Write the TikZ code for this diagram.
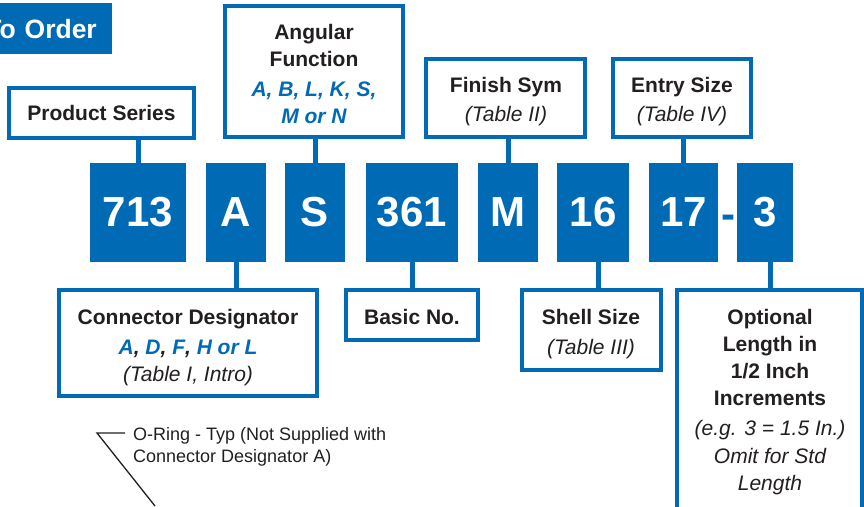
\documentclass[tikz,border=0pt]{standalone}
\usepackage{fontspec}
\setmainfont{Liberation Sans}
\definecolor{brandblue}{RGB}{0,106,180}
\definecolor{ink}{RGB}{35,31,32}
\begin{document}
\begin{tikzpicture}[x=1pt,y=-1pt,
 code/.style={fill=brandblue, text=white, font=\fontsize{42}{42}\selectfont\bfseries, minimum height=99pt, inner sep=0pt},
 lbl/.style={draw=brandblue, line width=4pt, fill=white, text=ink, align=center, inner sep=0pt, font=\fontsize{21}{27}\selectfont\bfseries},
 lbltext/.style={text=ink, align=center, inner sep=0pt, anchor=north, font=\fontsize{21}{27}\selectfont\bfseries},
 conn/.style={draw=brandblue, line width=5pt},
 leader/.style={draw=ink, line width=1.3pt},
 ]
\useasboundingbox (0,0) rectangle (864,506);
% title
\node[fill=brandblue, text=white, anchor=north east, minimum height=51pt, text width=125pt, align=right, inner xsep=15pt, inner ysep=0pt, font=\fontsize{26.5}{26.5}\selectfont\bfseries] (title) at (112,3) {To Order};
% code boxes
\node[code, minimum width=96pt] (c713) at (138,212.5) {713};
\node[code, minimum width=60pt] (cA) at (236,212.5) {A};
\node[code, minimum width=60pt] (cS) at (315,212.5) {S};
\node[code, minimum width=92pt] (c361) at (412,212.5) {361};
\node[code, minimum width=60pt] (cM) at (508,212.5) {M};
\node[code, minimum width=72pt] (c16) at (593,212.5) {16};
\node[code, minimum width=69pt] (c17) at (683.5,212.5) {17};
\node[code, minimum width=56pt] (c3) at (765,212.5) {3};
\node[text=brandblue, font=\fontsize{42}{42}\selectfont\bfseries, inner sep=0pt, anchor=base] (dash) at (728,228.3) {-};
% upper labels
\node[lbl, minimum width=185pt, minimum height=50pt] (ps) at (101.5,113) {Product Series};
\node[lbl, minimum width=178pt, minimum height=131pt] (af) at (314,71.5) {};
\node[lbltext] (afT) at (314,24) {Angular\\Function\\[3pt]{\color{brandblue}\itshape A, B, L, K, S,}\\{\color{brandblue}\itshape M or N}};
\node[lbl, minimum width=159pt, minimum height=78pt] (fs) at (505.5,98) {};
\node[lbltext] (fsT) at (506,77) {Finish Sym\\[2pt]{\mdseries\itshape (Table II)}};
\node[lbl, minimum width=138pt, minimum height=78pt] (es) at (682,98) {};
\node[lbltext] (esT) at (682,77) {Entry Size\\[2pt]{\mdseries\itshape (Table IV)}};
% lower labels
\node[lbl, minimum width=258pt, minimum height=106pt] (cd) at (188,343) {};
\node[lbltext] (cdT) at (188,309) {Connector Designator\\[3pt]{\itshape\color{brandblue}A{\color{ink},} D{\color{ink},} F{\color{ink},} H or L}\\{\mdseries\itshape (Table I, Intro)}};
\node[lbl, minimum width=132pt, minimum height=50pt] (bn) at (412,315) {};
\node[lbltext] (bnT) at (412,309) {Basic No.};
\node[lbl, minimum width=139pt, minimum height=80pt] (ss) at (591.5,330) {};
\node[lbltext] (ssT) at (591,309) {Shell Size\\[3pt]{\mdseries\itshape (Table III)}};
\node[lbl, minimum width=185pt, minimum height=219pt] (ol) at (769.5,399.5) {};
\node[lbltext] (olT) at (770,309) {Optional\\Length in\\1/2 Inch\\Increments\\[3pt]{\mdseries\itshape (e.g. 3 = 1.5 In.)}\\[1pt]{\mdseries\itshape Omit for Std}\\{\mdseries\itshape Length}};
% connectors
\draw[conn] (c713.north) -- (c713.north |- ps.south);
\draw[conn] (cS.north) -- (cS.north |- af.south);
\draw[conn] (cM.north) -- (cM.north |- fs.south);
\draw[conn] (c17.north) -- (c17.north |- es.south);
\draw[conn] (cA.south) -- (cA.south |- cd.north);
\draw[conn] (c361.south) -- (c361.south |- bn.north);
\draw[conn] ([xshift=5pt]c16.south) -- ([xshift=5pt]c16.south |- ss.north);
\draw[conn] ([xshift=5pt]c3.south) -- ([xshift=5pt]c3.south |- ol.north);
% O-ring note
\node[anchor=north west, align=left, inner sep=0pt, text=ink, font=\fontsize{18}{22}\selectfont] (oring) at (133,427) {O-Ring - Typ (Not Supplied with\\Connector Designator A)};
\coordinate (lh) at (125,433);
\coordinate (lk) at (97,433);
\coordinate (le) at (155,506);
\draw[leader] (lh) -- (lk) -- (le);
\end{tikzpicture}
\end{document}
